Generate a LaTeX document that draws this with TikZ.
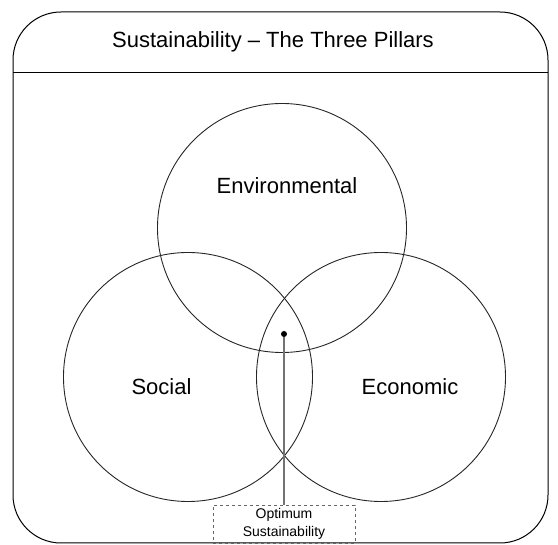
\documentclass[tikz,border=0pt]{standalone}
\usepackage{fontspec}
\setmainfont{Liberation Sans}
\begin{document}
\begin{tikzpicture}[x=1pt,y=-1pt,
  ring/.style={circle, draw=black!85, line width=0.9pt, minimum size=249pt, inner sep=0pt},
  lbl/.style={font=\fontsize{22}{26}\selectfont, inner sep=0pt, anchor=base},
  small/.style={font=\fontsize{14}{18}\selectfont, align=center, inner sep=0pt},
  frame/.style={draw=black, line width=1pt}]
\useasboundingbox (0,0) rectangle (558,545);
% outer rounded frame and title bar
\draw[frame, rounded corners=48pt] (13,543) -- (13,12) -- (548,12) -- (548,543) -- cycle;
\coordinate (barL) at (13,73);
\coordinate (barR) at (548,73);
\draw[frame] (barL) -- (barR);
\node[lbl, anchor=base west] (title) at (112,48) {Sustainability – The Three Pillars};
% circles
\node[ring] (env) at (282,228) {};
\node[ring] (soc) at (188,377) {};
\node[ring] (eco) at (381,377) {};
% labels
\node[lbl] (envl) at (287,194) {Environmental};
\node[lbl] (socl) at (161.5,395) {Social};
\node[lbl] (ecol) at (410,395) {Economic};
% optimum point
\node[circle, fill=black, inner sep=0pt, minimum size=6pt] (dot) at (284,334) {};
\node[small, draw=black!60, dashed, line width=0.6pt, minimum width=142pt, minimum height=38pt, anchor=north] (box) at (284,505) {Optimum\\Sustainability};
\draw[draw=black!55, line width=1.2pt] (dot) -- (box);
\end{tikzpicture}
\end{document}
